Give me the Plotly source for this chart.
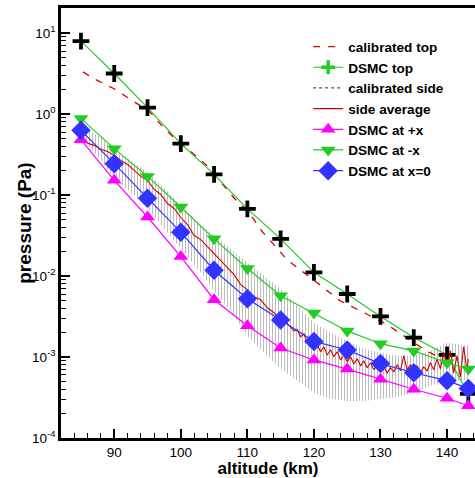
import plotly.graph_objects as go

# ---------------- data ----------------
alt_dsmc = [85, 90, 95, 100, 105, 110, 115, 120, 125, 130, 135, 140, 143.2]
dsmc_top = [7.96, 3.17, 1.20, 0.431, 0.180, 0.0676, 0.0288, 0.0111, 0.0060,
            0.00317, 0.00174, 0.00106, 0.00035]
dsmc_minus_x = [0.88, 0.374, 0.170, 0.0713, 0.0288, 0.0124, 0.0057, 0.0035,
                0.0021, 0.00146, 0.00119, 0.00085, 0.00071]
dsmc_x0 = [0.63, 0.244, 0.0916, 0.0348, 0.0118, 0.00525, 0.00286, 0.00156,
           0.00122, 0.00083, 0.00064, 0.00051, 0.00041]
dsmc_plus_x = [0.483, 0.152, 0.0536, 0.0174, 0.0051, 0.00243, 0.00129, 0.00092,
               0.00071, 0.00053, 0.00040, 0.00031, 0.00025]

alt_cal_top = [85.3, 86.9, 89.9, 92.6, 95.4, 97.1, 99.1, 101.9, 103.9, 108.0,
               110.4, 112.1, 116.1, 120.1, 123.9, 127.9, 130.9, 133.9, 136.9, 138.9]
cal_top = [3.32, 2.75, 2.07, 1.48, 1.06, 0.726, 0.498, 0.324, 0.232, 0.092,
           0.0587, 0.0365, 0.0155, 0.00877, 0.00497, 0.00340, 0.00255, 0.00174,
           0.00119, 0.00099]

alt_side_avg = [85, 86, 87, 88, 89, 90, 91, 92, 93, 94, 95, 96, 97, 98, 99, 100,
                101, 102, 103, 104, 105, 106, 107, 108, 109, 110, 111, 112, 113,
                114, 115, 116, 117,
                117.5, 118, 118.5, 119, 119.5, 120, 120.5, 121, 121.5, 122, 122.5,
                123, 123.5, 124, 124.5, 125, 125.5, 126, 126.5, 127, 127.5, 128,
                128.5, 129, 129.5, 130, 130.5, 131, 131.5, 132, 132.5, 133, 133.5,
                134, 134.5, 135, 135.5, 136, 136.5, 137, 137.5, 138, 138.5, 139,
                139.5, 140, 140.5, 141, 141.5, 142, 142.5, 143, 143.2]
side_avg = [0.488, 0.435, 0.411, 0.367, 0.346, 0.309, 0.268, 0.239, 0.2016, 0.170,
            0.1516, 0.1173, 0.1017, 0.0787, 0.0683, 0.0528, 0.0433, 0.0316, 0.0282,
            0.0231, 0.0189, 0.01508, 0.01235, 0.01041, 0.00783, 0.00679, 0.00556,
            0.00510, 0.00406, 0.00352, 0.00281, 0.00258, 0.00211,
            0.00217, 0.00178, 0.00194, 0.00150, 0.00163, 0.00130, 0.00142, 0.00116,
            0.00134, 0.00106, 0.00123, 0.00101, 0.00116, 0.000923, 0.00106,
            0.000872, 0.00101, 0.000824, 0.000950, 0.000778, 0.000897, 0.000735,
            0.000848, 0.000694, 0.000801, 0.000656, 0.000756, 0.000638, 0.000735,
            0.000656, 0.000801, 0.000675, 0.00104, 0.000694, 0.000801, 0.000656,
            0.000778, 0.000638, 0.000756, 0.000675, 0.000848, 0.000694, 0.000950,
            0.000714, 0.00113, 0.000756, 0.00119, 0.000638, 0.00104, 0.000569,
            0.00134, 0.000675, 0.000950]

# envelope of the (strongly oscillating) calibrated side signal
alt_side_band = [85.5, 88, 90, 92.5, 95, 97.5, 100, 102.5, 105, 107.5, 110, 112.5,
                 115, 117.5, 120, 122.5, 125, 127.5, 130, 132.5, 135, 137.5, 140, 143.2]
side_band_hi = [0.667, 0.516, 0.356, 0.268, 0.191, 0.121, 0.0743, 0.0458, 0.0316,
                0.0218, 0.0147, 0.0101, 0.00698, 0.00431, 0.00265, 0.00200, 0.00159,
                0.00126, 0.00113, 0.00104, 0.00104, 0.00119, 0.00150, 0.00138]
side_band_lo = [0.474, 0.268, 0.160, 0.108, 0.0682, 0.0386, 0.0218, 0.0124, 0.00659,
                0.00373, 0.00183, 0.00113, 0.000714, 0.000507, 0.000361, 0.000304,
                0.000287, 0.000287, 0.000304, 0.000321, 0.000361, 0.000441,
                0.000480, 0.000537]

y_tickvals = [1e-4, 1e-3, 1e-2, 1e-1, 1e0, 1e1]
y_ticktext = ["10<sup>-4</sup>", "10<sup>-3</sup>", "10<sup>-2</sup>",
              "10<sup>-1</sup>", "10<sup>0</sup>", "10<sup>1</sup>"]
y_minor = [m * 10.0 ** e for e in range(-4, 2) for m in range(2, 10)]

# ---------------- style ----------------
RED = "#d40000"
GREEN = "#22cc22"
BLUE = "#3333ff"
MAGENTA = "#ff00ff"
FONT = "Liberation Sans, Arial, sans-serif"

fig = go.Figure()

# calibrated side band (dotted hatch)
fig.add_trace(go.Scatter(
    x=alt_side_band + alt_side_band[::-1],
    y=side_band_hi + side_band_lo[::-1],
    fill="toself", mode="lines", line=dict(width=0),
    fillcolor="rgba(0,0,0,0)",
    fillpattern=dict(shape="|", fgcolor="#6a6a6a", bgcolor="rgba(0,0,0,0)",
                     size=3, solidity=0.3),
    showlegend=False, hoverinfo="skip"))

fig.add_trace(go.Scatter(
    x=alt_cal_top, y=cal_top, mode="lines", name="calibrated top",
    line=dict(color=RED, width=1.3, dash="7px,8px")))

fig.add_trace(go.Scatter(
    x=alt_dsmc, y=dsmc_top, mode="lines+markers", showlegend=False,
    line=dict(color=GREEN, width=1.2),
    marker=dict(symbol="cross-thin", size=12, color="black",
                line=dict(color="black", width=3.8))))
fig.add_trace(go.Scatter(
    x=[None], y=[None], mode="lines+markers", name="DSMC top",
    line=dict(color=GREEN, width=1.2),
    marker=dict(symbol="cross-thin", size=10, color=GREEN,
                line=dict(color=GREEN, width=3.5))))

fig.add_trace(go.Scatter(
    x=[None], y=[None], mode="lines", name="calibrated side",
    line=dict(color="#555555", width=1.2, dash="dot")))

fig.add_trace(go.Scatter(
    x=alt_side_avg, y=side_avg, mode="lines", name="side average",
    line=dict(color=RED, width=1.1)))

fig.add_trace(go.Scatter(
    x=alt_dsmc, y=dsmc_plus_x, mode="lines+markers", name="DSMC at +x",
    line=dict(color=MAGENTA, width=1.2),
    marker=dict(symbol="triangle-up", size=13, color=MAGENTA)))

fig.add_trace(go.Scatter(
    x=alt_dsmc, y=dsmc_minus_x, mode="lines+markers", name="DSMC at -x",
    line=dict(color=GREEN, width=1.2),
    marker=dict(symbol="triangle-down", size=13, color=GREEN)))

fig.add_trace(go.Scatter(
    x=alt_dsmc, y=dsmc_x0, mode="lines+markers", name="DSMC at x=0",
    line=dict(color=BLUE, width=1.2),
    marker=dict(symbol="diamond", size=15, color=BLUE)))

fig.add_annotation(
    text="pressure (Pa)", textangle=-90, showarrow=False,
    xref="paper", yref="paper", x=-0.09, y=0.50,
    xanchor="center", yanchor="middle",
    font=dict(family=FONT, size=19, weight=700, color="black"))

fig.update_layout(
    width=475, height=478,
    margin=dict(l=61, r=0, t=8, b=40),
    paper_bgcolor="white", plot_bgcolor="white",
    font=dict(family=FONT, color="black", size=13.5),
    legend=dict(x=0.597, y=0.946, xanchor="left", yanchor="top",
                bgcolor="rgba(0,0,0,0)",
                font=dict(family=FONT, size=13.6, weight=700, color="black")),
    xaxis=dict(
        range=[82, 144.2], showgrid=False, zeroline=False,
        showline=True, linecolor="black", linewidth=2.5, mirror=True,
        tickvals=[90, 100, 110, 120, 130, 140],
        ticks="inside", ticklen=9, tickwidth=1.5, tickcolor="black",
        minor=dict(dtick=2, tick0=0, ticks="inside", ticklen=5, tickwidth=1.2,
                   tickcolor="black"),
        tickfont=dict(size=13.5),
        title=dict(text="altitude (km)", standoff=4,
                   font=dict(size=17, weight=700))),
    yaxis=dict(
        type="log", range=[-4, 1.31], showgrid=False, zeroline=False,
        showline=True, linecolor="black", linewidth=2.5, mirror=False,
        tickvals=y_tickvals, ticktext=y_ticktext,
        ticks="inside", ticklen=9, tickwidth=1.5, tickcolor="black",
        minor=dict(tickvals=y_minor, ticks="inside", ticklen=5, tickwidth=1.2,
                   tickcolor="black"),
        tickfont=dict(size=13.5)),
)

fig.write_html("out.html")
